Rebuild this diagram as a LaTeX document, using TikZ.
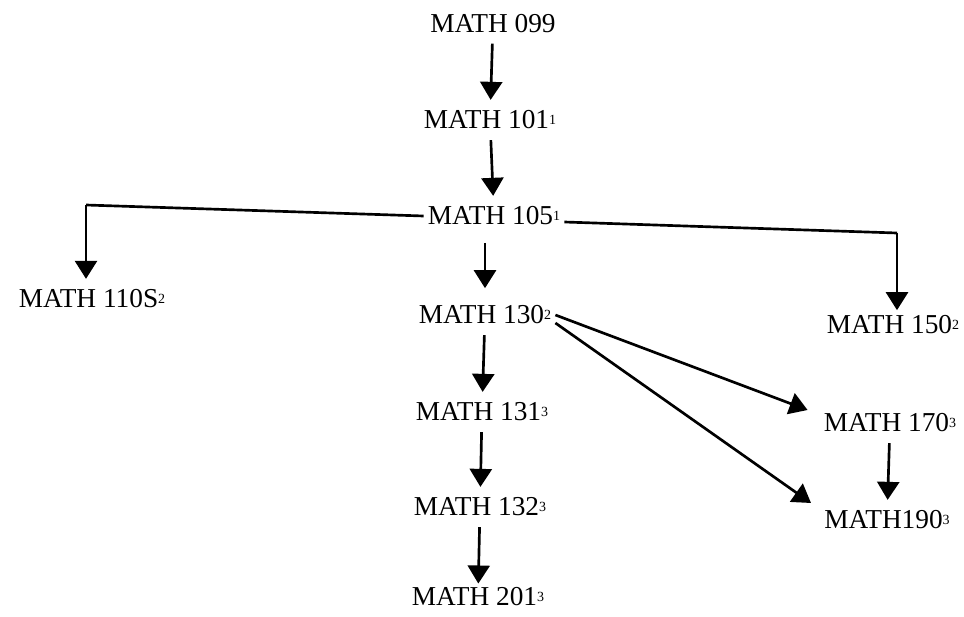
\documentclass[tikz,border=0pt]{standalone}
\usepackage{fontspec}
\setmainfont{Liberation Serif}
\usetikzlibrary{arrows.meta}
\newcommand\supnum[1]{\raisebox{3.5pt}{\fontsize{10.5}{10.5}\selectfont #1}}
\tikzset{
  course/.style={inner xsep=3pt, inner ysep=8pt, font=\fontsize{20.5}{24}\selectfont},
  arr/.style={line width=2pt, -{Triangle[width=16.5pt,length=13.5pt]}},
  link/.style={line width=2pt}
}
\begin{document}
\begin{tikzpicture}[x=0.75pt,y=-0.75pt]
\useasboundingbox (0,0) rectangle (964,617);
\node[course] (m099) at (493,23.5) {MATH 099};
\node[course] (m101) at (490,120) {MATH 101\supnum{1}};
\node[course] (m105) at (494,216) {MATH 105\supnum{1}};
\node[course] (m110) at (92,299) {MATH 110S\supnum{2}};
\node[course] (m130) at (485,315) {MATH 130\supnum{2}};
\node[course] (m150) at (893,325) {MATH 150\supnum{2}};
\node[course] (m170) at (890,423) {MATH 170\supnum{3}};
\node[course] (m190) at (887,520) {MATH190\supnum{3}};
\node[course] (m131) at (482,412) {MATH 131\supnum{3}};
\node[course] (m132) at (480,507) {MATH 132\supnum{3}};
\node[course] (m201) at (478,597) {MATH 201\supnum{3}};
\coordinate (cl) at (86,205);
\coordinate (cr) at (897,233);
\draw[arr] (m099) -- (m101);
\draw[arr] (m101) -- (m105);
\draw[arr, shorten <=5pt, shorten >=5pt] (m130.north |- m105.south) -- (m130.north);
\draw[arr] (m130) -- (m131);
\draw[arr] (m131) -- (m132);
\draw[arr, shorten >=-5pt] (m132) -- (m201);
\draw[arr] (m170) -- (m190);
\draw[link] (m105.west) -- (cl);
\draw[arr] (cl) -- (cl |- m110.north);
\draw[link] ([yshift=-4.5pt]m105.east) -- (cr);
\draw[arr, shorten >=-4pt] (cr) -- (cr |- m150.north);
\draw[arr] (m130.east) -- ([xshift=-9pt,yshift=9.75pt]m170.west);
\draw[arr] ([yshift=-6pt]m130.east) -- ([xshift=-6.75pt,yshift=12.75pt]m190.west);
\end{tikzpicture}
\end{document}
